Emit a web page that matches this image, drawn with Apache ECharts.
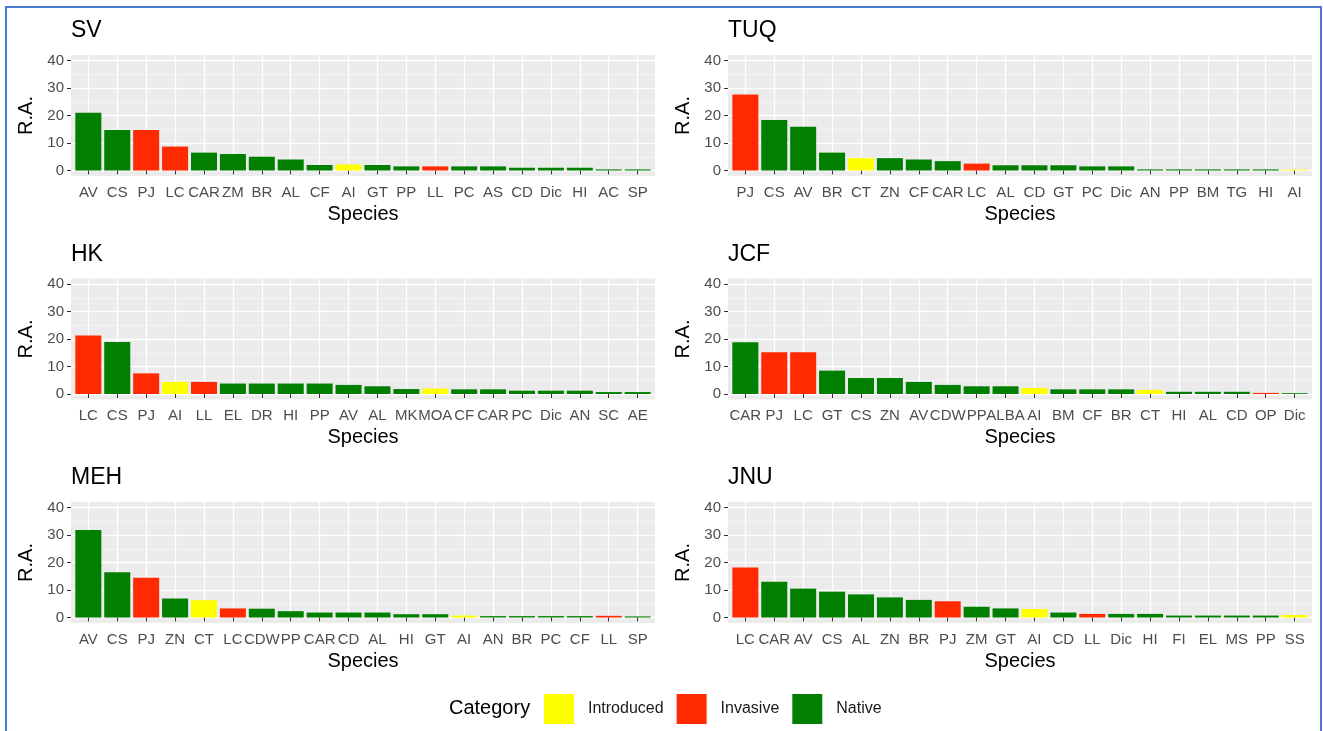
<!DOCTYPE html>
<html><head><meta charset="utf-8">
<script src="https://cdn.jsdelivr.net/npm/echarts@6/dist/echarts.min.js"></script>
<style>html,body{margin:0;padding:0;background:#fff}#c{width:1323px;height:731px}</style>
</head><body><div id="c"></div>
<script>
const N = 'Native', V = 'Invasive', I = 'Introduced';

const svSpecies = ['AV','CS','PJ','LC','CAR','ZM','BR','AL','CF','AI','GT','PP','LL','PC','AS','CD','Dic','HI','AC','SP'];
const svValues  = [21, 14.7, 14.7, 8.7, 6.5, 6, 5, 4, 2, 2.2, 2, 1.5, 1.5, 1.5, 1.5, 1, 1, 1, 0.4, 0.4];
const svCategory = [N,N,V,V,N,N,N,N,N,I,N,N,V,N,N,N,N,N,N,N];

const tuqSpecies = ['PJ','CS','AV','BR','CT','ZN','CF','CAR','LC','AL','CD','GT','PC','Dic','AN','PP','BM','TG','HI','AI'];
const tuqValues  = [27.6, 18.4, 15.9, 6.5, 4.5, 4.5, 4, 3.4, 2.5, 1.9, 1.9, 1.9, 1.5, 1.5, 0.4, 0.4, 0.4, 0.4, 0.4, 0.3];
const tuqCategory = [V,N,N,N,I,N,N,N,V,N,N,N,N,N,N,N,N,N,N,I];

const hkSpecies = ['LC','CS','PJ','AI','LL','EL','DR','HI','PP','AV','AL','MK','MOA','CF','CAR','PC','Dic','AN','SC','AE'];
const hkValues  = [21.3, 18.9, 7.5, 4.4, 4.4, 3.8, 3.8, 3.8, 3.8, 3.3, 2.8, 1.8, 2.0, 1.7, 1.7, 1.2, 1.2, 1.2, 0.7, 0.7];
const hkCategory = [V,N,V,I,V,N,N,N,N,N,N,N,I,N,N,N,N,N,N,N];

const jcfSpecies = ['CAR','PJ','LC','GT','CS','ZN','AV','CDW','PP','ALBA','AI','BM','CF','BR','CT','HI','AL','CD','OP','Dic'];
const jcfValues  = [18.8, 15.2, 15.2, 8.5, 5.8, 5.8, 4.4, 3.3, 2.8, 2.8, 2.2, 1.7, 1.7, 1.7, 1.5, 0.8, 0.8, 0.8, 0.4, 0.3];
const jcfCategory = [N,V,V,N,N,N,N,N,N,N,I,N,N,N,I,N,N,N,V,N];

const mehSpecies = ['AV','CS','PJ','ZN','CT','LC','CDW','PP','CAR','CD','AL','HI','GT','AI','AN','BR','PC','CF','LL','SP'];
const mehValues  = [31.8, 16.5, 14.5, 6.9, 6.3, 3.3, 3.2, 2.3, 1.8, 1.8, 1.8, 1.2, 1.2, 0.7, 0.5, 0.5, 0.5, 0.5, 0.6, 0.4];
const mehCategory = [N,N,V,N,I,V,N,N,N,N,N,N,N,I,N,N,N,N,V,N];

const jnuSpecies = ['LC','CAR','AV','CS','AL','ZN','BR','PJ','ZM','GT','AI','CD','LL','Dic','HI','FI','EL','MS','PP','SS'];
const jnuValues  = [18.2, 13, 10.5, 9.4, 8.4, 7.3, 6.4, 5.9, 3.9, 3.3, 3.1, 1.8, 1.3, 1.3, 1.3, 0.7, 0.7, 0.7, 0.7, 0.9];
const jnuCategory = [V,N,N,N,N,N,N,V,N,N,I,N,V,N,N,N,N,N,N,I];

const panelTitles = ['SV','TUQ','HK','JCF','MEH','JNU'];
const yTicks = [0, 10, 20, 30, 40];
const yMinorTicks = [5, 15, 25, 35];
const categoryNames = [I, V, N];
const categoryColors = {Introduced: '#FFFF00', Invasive: '#FF2A00', Native: '#007F00'};

const panels = [
  [svSpecies, svValues, svCategory],
  [tuqSpecies, tuqValues, tuqCategory],
  [hkSpecies, hkValues, hkCategory],
  [jcfSpecies, jcfValues, jcfCategory],
  [mehSpecies, mehValues, mehCategory],
  [jnuSpecies, jnuValues, jnuCategory]
];

const FONT = '"Liberation Sans", Arial, sans-serif';
const colLeft = [71, 728];
const gridW = 584;
const rowTop = [55, 278.5, 502];
const gridH = 121;
const barW = gridW / 20.2 * 0.9;

const grids = [], xAxes = [], yAxes = [], series = [], titles = [];
panels.forEach(([sp, vals, cats], i) => {
  const r = Math.floor(i / 2), c = i % 2;
  grids.push({left: colLeft[c], top: rowTop[r], width: gridW, height: gridH,
    show: true, backgroundColor: '#EBEBEB', borderWidth: 0});
  titles.push({text: panelTitles[i], left: colLeft[c], top: rowTop[r] - 35.5, padding: 0,
    textStyle: {fontSize: 23, fontWeight: 'normal', color: '#000', fontFamily: FONT}});
  const pos = sp.map((s, k) => k + 1);
  xAxes.push({gridIndex: i, type: 'value', min: 0.4, max: sp.length + 0.6,
    axisLine: {show: false},
    axisTick: {show: true, customValues: pos, length: 4, lineStyle: {color: '#333', width: 1}},
    axisLabel: {customValues: pos, formatter: v => sp[Math.round(v) - 1], fontSize: 15,
      color: '#4d4d4d', margin: 9, fontFamily: FONT, hideOverlap: false},
    splitLine: {show: true, lineStyle: {color: '#FFFFFF', width: 1.3}},
    name: 'Species', nameLocation: 'middle', nameGap: 28,
    nameTextStyle: {fontSize: 20, color: '#000', fontFamily: FONT}});
  yAxes.push({gridIndex: i, type: 'value', min: -2, max: 42, position: 'left',
    axisLine: {show: false},
    axisTick: {show: true, customValues: yTicks, length: 4, lineStyle: {color: '#333', width: 1}},
    axisLabel: {customValues: yTicks, fontSize: 15, color: '#4d4d4d', margin: 7, fontFamily: FONT},
    splitLine: {show: true, lineStyle: {color: '#FFFFFF', width: 1.3}},
    name: 'R.A.', nameLocation: 'middle', nameGap: 35, nameRotate: 90,
    nameTextStyle: {fontSize: 20, color: '#000', fontFamily: FONT}});
  yAxes.push({gridIndex: i, type: 'value', min: -2, max: 42, position: 'left',
    axisLine: {show: false},
    axisTick: {show: false, customValues: yMinorTicks},
    axisLabel: {show: false, customValues: yMinorTicks},
    splitLine: {show: true, lineStyle: {color: '#F8F8F8', width: 0.7}}});
  categoryNames.forEach(cn => {
    const data = [];
    sp.forEach((s, k) => { if (cats[k] === cn) data.push([k + 1, vals[k]]); });
    series.push({type: 'bar', name: cn, xAxisIndex: i, yAxisIndex: 2 * i,
      data: data, barWidth: barW, barGap: '-100%', z: 3,
      itemStyle: {color: categoryColors[cn]}, silent: true, animation: false});
  });
});

titles.push({text: 'Category', left: 449, top: 698, padding: 0,
  textStyle: {fontSize: 20, fontWeight: 'normal', color: '#000', fontFamily: FONT}});

const chart = echarts.init(document.getElementById('c'), null, {renderer: 'canvas'});
chart.setOption({
  animation: false,
  backgroundColor: '#FFFFFF',
  title: titles,
  grid: grids,
  xAxis: xAxes,
  yAxis: yAxes,
  series: series,
  legend: {data: categoryNames, left: 544, top: 694, padding: 0, itemWidth: 30, itemHeight: 30,
    itemGap: 13, icon: 'rect', selectedMode: false,
    textStyle: {fontSize: 16, color: '#1a1a1a', padding: [0, 0, 0, 9], fontFamily: FONT}},
  graphic: [{type: 'rect', shape: {x: 6, y: 7, width: 1315, height: 800},
    style: {fill: 'none', stroke: '#4A7BD3', lineWidth: 2}, silent: true}]
});
</script></body></html>
